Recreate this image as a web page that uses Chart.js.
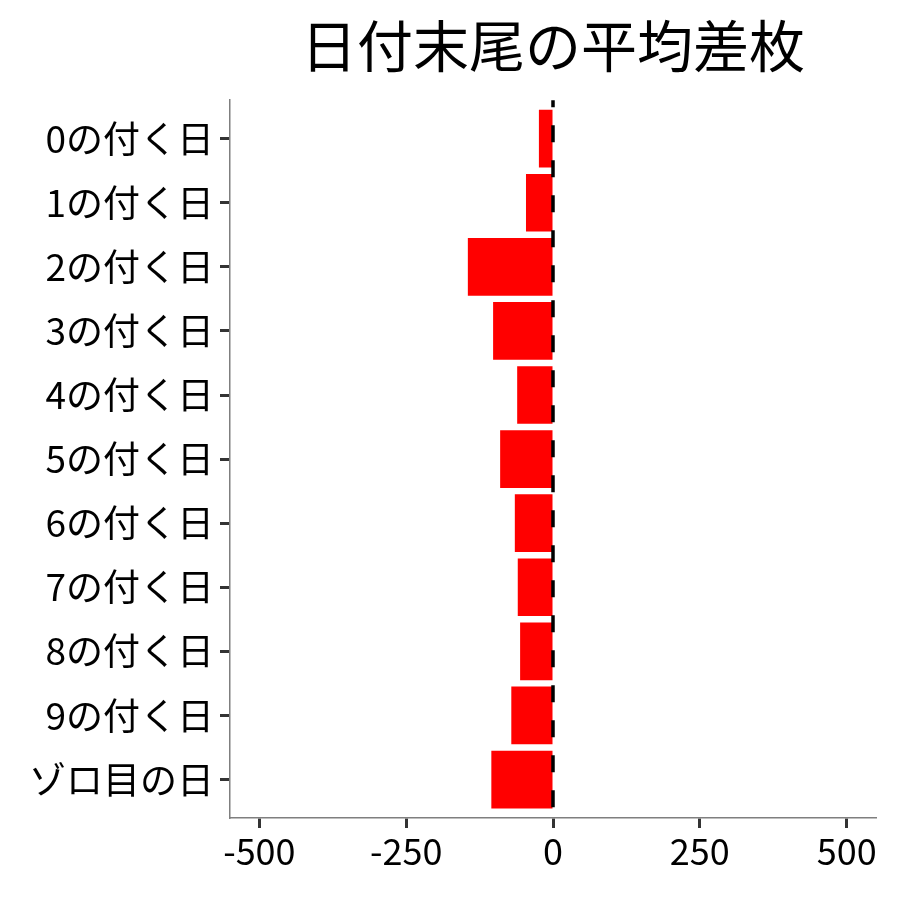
<!DOCTYPE html>
<html>
<head>
<meta charset="utf-8">
<script src="https://cdn.jsdelivr.net/npm/chart.js@4/dist/chart.umd.min.js"></script>
<style>
  html, body { margin: 0; padding: 0; background: #fff; }
  #wrap { width: 900px; height: 900px; }
</style>
</head>
<body>
<div id="wrap"><canvas id="myChart"></canvas></div>
<script>
const titleText = '日付末尾の平均差枚';
const categories = ['0の付く日', '1の付く日', '2の付く日', '3の付く日', '4の付く日',
    '5の付く日', '6の付く日', '7の付く日', '8の付く日', '9の付く日', 'ゾロ目の日'];
const diffValues = [-24, -46, -145, -102, -61, -90, -65, -60, -56, -71, -105];
const xTicks = [-500, -250, 0, 250, 500];

const FONT = '"Noto Sans CJK JP", "Noto Sans", sans-serif';
Chart.defaults.font.family = FONT;
Chart.defaults.color = '#000';

// dashed line at zero, drawn from the x scale
const zeroLine = {
    id: 'zeroLine',
    afterDatasetsDraw(chart) {
        const ctx = chart.ctx;
        const x = chart.scales.x.getPixelForValue(0);
        const a = chart.chartArea;
        ctx.save();
        ctx.strokeStyle = '#000';
        ctx.lineWidth = 3.5;
        ctx.setLineDash([17, 18]);
        ctx.lineDashOffset = 10;
        ctx.beginPath();
        ctx.moveTo(x, a.top);
        ctx.lineTo(x, a.bottom);
        ctx.stroke();
        ctx.restore();
    }
};

const chartEl = document.getElementById('myChart');
const myChart = new Chart(chartEl, {
    type: 'bar',
    data: {
        datasets: [{
            data: categories.map((c, i) => ({ x: diffValues[i], y: i + 1 })),
            backgroundColor: '#ff0000',
            borderWidth: 0,
            categoryPercentage: 0.9,
            barPercentage: 1.0
        }]
    },
    options: {
        indexAxis: 'y',
        responsive: true,
        maintainAspectRatio: false,
        animation: false,
        layout: { padding: { left: 0, right: 24, top: 0, bottom: 0 } },
        scales: {
            x: {
                type: 'linear',
                min: -550,
                max: 550,
                afterBuildTicks: (s) => { s.ticks = xTicks.map(v => ({ value: v })); },
                afterFit: (s) => { s.height = 82; },
                border: { display: true, color: '#7f7f7f', width: 1.5 },
                grid: { drawOnChartArea: false, drawTicks: true, tickLength: 10, tickColor: '#333', tickWidth: 3 },
                ticks: { color: '#000', font: { size: 36 }, padding: 2, maxRotation: 0 }
            },
            y: {
                type: 'linear',
                reverse: true,
                offset: false,
                min: 0.4,
                max: 11.6,
                afterBuildTicks: (s) => { s.ticks = categories.map((c, i) => ({ value: i + 1 })); },
                afterFit: (s) => { s.width = 230; },
                border: { display: true, color: '#7f7f7f', width: 1.5 },
                grid: { offset: false, drawOnChartArea: false, drawTicks: true, tickLength: 10, tickColor: '#333', tickWidth: 3 },
                ticks: {
                    color: '#000',
                    font: { size: 37 },
                    padding: 6,
                    autoSkip: false,
                    callback: (v) => categories[Math.round(v) - 1]
                }
            }
        },
        plugins: {
            legend: { display: false },
            tooltip: { enabled: false },
            title: {
                display: true,
                text: titleText,
                fullSize: false,
                color: '#000',
                font: { size: 56, weight: 'normal' },
                padding: { top: 12, bottom: 21 }
            }
        }
    },
    plugins: [zeroLine]
});
</script>
</body>
</html>
